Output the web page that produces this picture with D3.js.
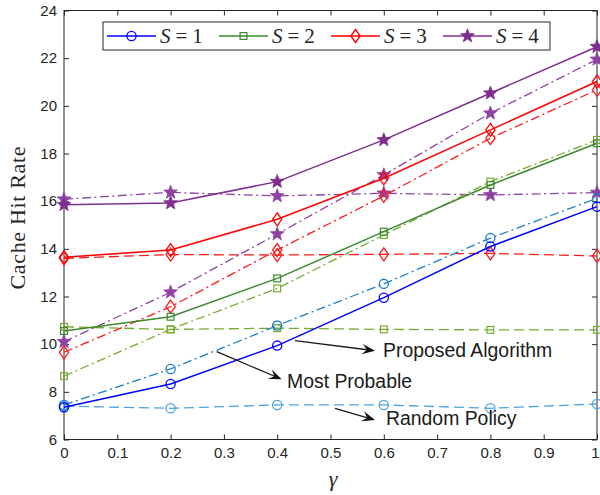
<!DOCTYPE html>
<html><head><meta charset="utf-8">
<script src="https://cdn.jsdelivr.net/npm/d3@7"></script>
<style>body{margin:0;background:#fff}svg{display:block}</style>
</head><body>
<svg id="c" width="600" height="495"></svg>
<script>
const gammaVals = [0, 0.2, 0.4, 0.6, 0.8, 1];
const sLabels = ["1", "2", "3", "4"];
// Proposed Algorithm (solid)
const proposedS1 = [7.35, 8.33, 9.94, 11.95, 14.1, 15.77];
const proposedS2 = [10.55, 11.15, 12.76, 14.72, 16.68, 18.43];
const proposedS3 = [13.65, 13.95, 15.24, 16.96, 18.99, 21.02];
const proposedS4 = [15.85, 15.92, 16.82, 18.57, 20.53, 22.48];
// Most Probable (dash-dot)
const mostProbS1 = [7.45, 8.96, 10.78, 12.53, 14.45, 16.12];
const mostProbS2 = [8.66, 10.62, 12.34, 14.58, 16.82, 18.57];
const mostProbS3 = [9.66, 11.57, 13.95, 16.22, 18.64, 20.67];
const mostProbS4 = [10.1, 12.18, 14.62, 17.1, 19.69, 21.95];
// Random Policy (dashed)
const randomS1 = [7.4, 7.31, 7.45, 7.45, 7.31, 7.49];
const randomS2 = [10.73, 10.62, 10.67, 10.62, 10.6, 10.6];
const randomS3 = [13.6, 13.76, 13.74, 13.77, 13.81, 13.7];
const randomS4 = [16.08, 16.37, 16.22, 16.33, 16.26, 16.36];
const xTicks = [0, 0.1, 0.2, 0.3, 0.4, 0.5, 0.6, 0.7, 0.8, 0.9, 1];
const yTicks = [6, 8, 10, 12, 14, 16, 18, 20, 22, 24];
const annotations = ["Proposed Algorithm", "Most Probable", "Random Policy"];

const svg = d3.select("#c");
const L = 64, R = 597, T = 10.5, B = 439.5;
const x = d3.scaleLinear().domain([0, 1]).range([L, R]);
const y = d3.scaleLinear().domain([6, 24]).range([B, T]);
const axCol = "#262626";

const styles = { solid: null, dashdot: "9,3.5,2,3.5", dashed: "10,5" };
const series = [
  {v: randomS1, c: "#4ca3df", dash: "dashed", m: "circle"},
  {v: randomS2, c: "#77ac30", dash: "dashed", m: "square"},
  {v: randomS3, c: "#ff1a1a", dash: "dashed", m: "diamond"},
  {v: randomS4, c: "#8e43a3", dash: "dashdot", m: "star"},
  {v: mostProbS1, c: "#1a7fcf", dash: "dashdot", m: "circle"},
  {v: mostProbS2, c: "#77ac30", dash: "dashdot", m: "square"},
  {v: mostProbS3, c: "#ff1a1a", dash: "dashdot", m: "diamond"},
  {v: mostProbS4, c: "#8e43a3", dash: "dashdot", m: "star"},
  {v: proposedS1, c: "#0000ff", dash: "solid", m: "circle"},
  {v: proposedS2, c: "#3d8b2e", dash: "solid", m: "square"},
  {v: proposedS3, c: "#ff0000", dash: "solid", m: "diamond"},
  {v: proposedS4, c: "#7e2f8e", dash: "solid", m: "star"}
];

function starPath(r) {
  const pts = [];
  for (let i = 0; i < 10; i++) {
    const a = -Math.PI / 2 + i * Math.PI / 5;
    const rr = i % 2 === 0 ? r : r * 0.42;
    pts.push([rr * Math.cos(a), rr * Math.sin(a)]);
  }
  return "M" + pts.map(p => p.join(",")).join("L") + "Z";
}
function drawMarker(g, type, cx, cy, col) {
  if (type === "circle") {
    g.append("circle").attr("cx", cx).attr("cy", cy).attr("r", 4.6)
      .attr("fill", "none").attr("stroke", col).attr("stroke-width", 1.3);
  } else if (type === "square") {
    g.append("rect").attr("x", cx - 3.4).attr("y", cy - 3.4).attr("width", 6.8).attr("height", 6.8)
      .attr("fill", "none").attr("stroke", col).attr("stroke-width", 1.2);
  } else if (type === "diamond") {
    g.append("path").attr("d", `M${cx},${cy-6.5}L${cx+4.6},${cy}L${cx},${cy+6.5}L${cx-4.6},${cy}Z`)
      .attr("fill", "none").attr("stroke", col).attr("stroke-width", 1.3);
  } else {
    g.append("path").attr("d", starPath(7.2)).attr("transform", `translate(${cx},${cy})`)
      .attr("fill", col).attr("stroke", col).attr("stroke-width", 0.8).attr("stroke-linejoin", "round");
  }
}

// Ticks (inward) on all sides
const gx = svg.append("g").attr("transform", `translate(0,${B})`)
  .call(d3.axisBottom(x).tickValues(xTicks).tickSizeInner(-5).tickSizeOuter(0).tickPadding(8).tickFormat(d3.format("")));
const gxt = svg.append("g").attr("transform", `translate(0,${T})`)
  .call(d3.axisTop(x).tickValues(xTicks).tickSizeInner(-5).tickSizeOuter(0).tickFormat(""));
const gy = svg.append("g").attr("transform", `translate(${L},0)`)
  .call(d3.axisLeft(y).tickValues(yTicks).tickSizeInner(-5).tickSizeOuter(0).tickPadding(7));
const gyr = svg.append("g").attr("transform", `translate(${R},0)`)
  .call(d3.axisRight(y).tickValues(yTicks).tickSizeInner(-5).tickSizeOuter(0).tickFormat(""));
[gx, gxt, gy, gyr].forEach(g => {
  g.select(".domain").remove();
  g.selectAll("line").attr("stroke", axCol).attr("stroke-width", 1);
  g.selectAll("text").attr("fill", axCol).attr("font-family", "Liberation Sans, Arial, sans-serif").attr("font-size", 15);
});
// keep the last x label inside the window
gx.selectAll("text").filter(d => d === 1).attr("dx", -2);
svg.append("rect").attr("x", L).attr("y", T).attr("width", R - L).attr("height", B - T)
  .attr("fill", "none").attr("stroke", axCol).attr("stroke-width", 1);

// Lines
const line = d3.line().x((d, i) => x(gammaVals[i])).y(d => y(d));
series.forEach(s => {
  svg.append("path").datum(s.v).attr("d", line).attr("fill", "none")
    .attr("stroke", s.c).attr("stroke-width", s.dash === "solid" ? 1.5 : 1.3)
    .attr("stroke-dasharray", styles[s.dash]);
  const mg = svg.append("g");
  s.v.forEach((d, i) => drawMarker(mg, s.m, x(gammaVals[i]), y(d), s.c));
});

// Axis labels
svg.append("text").attr("transform", "translate(25,218) rotate(-90)").attr("text-anchor", "middle")
  .attr("font-family", "Liberation Serif, Times New Roman, serif").attr("font-size", 22).attr("fill", axCol)
  .attr("textLength", 143).attr("lengthAdjust", "spacing")
  .text("Cache Hit Rate");
svg.append("text").attr("x", 333).attr("y", 486).attr("text-anchor", "middle")
  .attr("font-family", "Liberation Serif, Times New Roman, serif").attr("font-style", "italic")
  .attr("font-size", 22).attr("fill", axCol).text("γ");

// Legend
const lg = svg.append("g");
lg.append("rect").attr("x", 103).attr("y", 22).attr("width", 447).attr("height", 28)
  .attr("fill", "#fff").attr("stroke", axCol).attr("stroke-width", 1);
const legSeries = series.slice(8);
const legX = [107, 219, 331, 443];
legSeries.forEach((s, i) => {
  const x0 = legX[i];
  lg.append("line").attr("x1", x0).attr("x2", x0 + 49).attr("y1", 36).attr("y2", 36)
    .attr("stroke", s.c).attr("stroke-width", 1.5);
  drawMarker(lg, s.m, x0 + 24.5, 36, s.c);
  const t = lg.append("text").attr("x", x0 + 53).attr("y", 42.5)
    .attr("font-family", "Liberation Serif, Times New Roman, serif").attr("font-size", 21).attr("fill", axCol);
  t.append("tspan").attr("font-style", "italic").text("S");
  t.append("tspan").attr("dx", 5).text("=");
  t.append("tspan").attr("dx", 5).text(sLabels[i]);
});

// Annotations
const ann = [
  {t: annotations[0], x1: 295, y1: 340.7, x2: 375, y2: 350.7, tx: 383, ty: 357},
  {t: annotations[1], x1: 216.7, y1: 351.7, x2: 281.7, y2: 379.3, tx: 287, ty: 388},
  {t: annotations[2], x1: 335, y1: 408.3, x2: 375, y2: 420, tx: 386, ty: 425}
];
ann.forEach(a => {
  const ang = Math.atan2(a.y2 - a.y1, a.x2 - a.x1);
  const hl = 13, hw = 5.2;
  svg.append("line").attr("x1", a.x1).attr("y1", a.y1)
    .attr("x2", a.x2 - Math.cos(ang) * hl * 0.6).attr("y2", a.y2 - Math.sin(ang) * hl * 0.6)
    .attr("stroke", "#1a1a1a").attr("stroke-width", 1.3);
  svg.append("path").attr("d", `M0,0L${-hl},${hw}L${-hl*0.62},0L${-hl},${-hw}Z`)
    .attr("transform", `translate(${a.x2},${a.y2}) rotate(${ang * 180 / Math.PI})`)
    .attr("fill", "#111");
  svg.append("text").attr("x", a.tx).attr("y", a.ty)
    .attr("font-family", "Liberation Sans, Arial, sans-serif").attr("font-size", 19.4).attr("fill", "#1a1a1a")
    .text(a.t);
});
</script>
</body></html>
